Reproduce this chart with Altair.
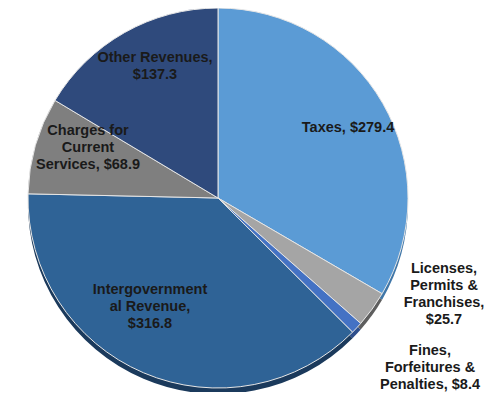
import altair as alt
import pandas as pd

categories = ["Taxes", "Licenses, Permits & Franchises", "Fines, Forfeitures & Penalties",
              "Intergovernmental Revenue", "Charges for Current Services", "Other Revenues"]
values = [279.4, 25.7, 8.4, 316.8, 68.9, 137.3]
colors = ["#5B9BD5", "#A5A5A5", "#4472C4", "#2F6396", "#7F7F7F", "#2F4A7C"]
shadow_colors = ["#3F76A8", "#5E5E5E", "#2E4F8C", "#1B3A5C", "#4F4F4F", "#1E3158"]
label_lines = [
    ["Taxes, $279.4"],
    ["Licenses,", "Permits &", "Franchises,", "$25.7"],
    ["Fines,", "Forfeitures &", "Penalties, $8.4"],
    ["Intergovernment", "al Revenue,", "$316.8"],
    ["Charges for", "Current", "Services, $68.9"],
    ["Other Revenues,", "$137.3"],
]

df = pd.DataFrame({"cat": categories, "value": values, "order": list(range(len(values)))})

CX, CY, R = 210, 190, 190

base = alt.Chart(df)

shadow = base.mark_arc(radius=R).encode(
    theta=alt.Theta("value:Q", stack=True),
    order=alt.Order("order:Q"),
    color=alt.Color("cat:N", scale=alt.Scale(domain=categories, range=shadow_colors), legend=None),
    x=alt.value(CX), y=alt.value(CY + 6),
)

pie = base.mark_arc(radius=R, stroke="#e6e6e6", strokeWidth=1).encode(
    theta=alt.Theta("value:Q", stack=True),
    order=alt.Order("order:Q"),
    color=alt.Color("cat:N", scale=alt.Scale(domain=categories, range=colors), legend=None),
    x=alt.value(CX), y=alt.value(CY),
)

# label anchor positions (text annotations)
label_pos = [(340, 113), (436, 254), (422, 336), (142, 275), (80, 116), (147, 43)]

texts = []
for cat, lines, (lx, ly) in zip(categories, label_lines, label_pos):
    tdf = pd.DataFrame({"cat": [cat], "txt": ["\n".join(lines)]})
    texts.append(
        alt.Chart(tdf).mark_text(
            font="Liberation Sans", fontWeight="bold", fontSize=14.5, lineHeight=17,
            lineBreak="\n", align="center", baseline="top", color="#1a1a1a",
        ).encode(text="txt:N", x=alt.value(lx), y=alt.value(ly))
    )

chart = alt.layer(shadow, pie, *texts).resolve_scale(color="independent").properties(
    width=479, height=384, padding=0, autosize="none"
).configure_view(stroke=None)

chart.save("out.html", embed_options={"renderer": "svg", "actions": False})
